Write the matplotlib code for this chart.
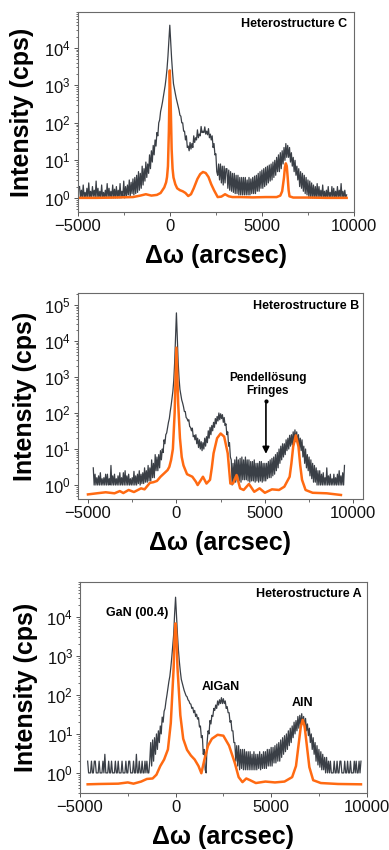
import numpy as np
import matplotlib
matplotlib.use("Agg")
import matplotlib.pyplot as plt
from matplotlib.ticker import MultipleLocator, LogLocator, NullFormatter

plt.rcParams['font.family'] = ['Liberation Sans', 'DejaVu Sans']
plt.rcParams['mathtext.fontset'] = 'custom'
plt.rcParams['mathtext.rm'] = 'Liberation Sans'

GRAY = '#3a3f46'
ORANGE = '#ff6a12'
nan = np.nan

# shared scan positions (arcsec) of the measured curves, one row = 1000 arcsec
gray_x = [-4900, -4850, -4800, -4750, -4700, -4650, -4600, -4550, -4500, -4450,
          -4400, -4350, -4300, -4250, -4200, -4150, -4100, -4050, -4000, -3950,
          -3900, -3850, -3800, -3750, -3700, -3650, -3600, -3550, -3500, -3450,
          -3400, -3350, -3300, -3250, -3200, -3150, -3100, -3050, -3000, -2950,
          -2900, -2850, -2800, -2750, -2700, -2650, -2600, -2550, -2500, -2450,
          -2400, -2350, -2300, -2250, -2200, -2150, -2100, -2050, -2000, -1950,
          -1900, -1850, -1800, -1750, -1700, -1650, -1600, -1550, -1500, -1450,
          -1400, -1350, -1300, -1250, -1200, -1150, -1100, -1050, -1000, -950,
          -900, -850, -800, -750, -700, -650, -600, -550, -500, -450,
          -400, -350, -300, -250, -200, -150, -100, -50, 0, 50,
          100, 150, 200, 250, 300, 350, 400, 450, 500, 550,
          600, 650, 700, 750, 800, 850, 900, 950, 1000, 1050,
          1100, 1150, 1200, 1250, 1300, 1350, 1400, 1450, 1500, 1550,
          1600, 1650, 1700, 1750, 1800, 1850, 1900, 1950, 2000, 2050,
          2100, 2150, 2200, 2250, 2300, 2350, 2400, 2450, 2500, 2550,
          2600, 2650, 2700, 2750, 2800, 2850, 2900, 2950, 3000, 3050,
          3100, 3150, 3200, 3250, 3300, 3350, 3400, 3450, 3500, 3550,
          3600, 3650, 3700, 3750, 3800, 3850, 3900, 3950, 4000, 4050,
          4100, 4150, 4200, 4250, 4300, 4350, 4400, 4450, 4500, 4550,
          4600, 4650, 4700, 4750, 4800, 4850, 4900, 4950, 5000, 5050,
          5100, 5150, 5200, 5250, 5300, 5350, 5400, 5450, 5500, 5550,
          5600, 5650, 5700, 5750, 5800, 5850, 5900, 5950, 6000, 6050,
          6100, 6150, 6200, 6250, 6300, 6350, 6400, 6450, 6500, 6550,
          6600, 6650, 6700, 6750, 6800, 6850, 6900, 6950, 7000, 7050,
          7100, 7150, 7200, 7250, 7300, 7350, 7400, 7450, 7500, 7550,
          7600, 7650, 7700, 7750, 7800, 7850, 7900, 7950, 8000, 8050,
          8100, 8150, 8200, 8250, 8300, 8350, 8400, 8450, 8500, 8550,
          8600, 8650, 8700, 8750, 8800, 8850, 8900, 8950, 9000, 9050,
          9100, 9150, 9200, 9250, 9300, 9350, 9400, 9450, 9500, 9550,
          9600, 9650, 9700]

# ---------------- Heterostructure C ----------------
gray_c = [2, 1, 1.6, 1, 2.2, 1, 1.4, 1, 1.8, 1, 2.5, 1, 1.5, 1, 2, 1.1, 1.6, 1, 2.8, 1,
          1.8, 1, 1.5, 1, 2.2, 1, 1.4, 1, 1.6, 1, 2.4, 1, 1.8, 1, 1.5, 1, 2.2, 1, 1.7, 1,
          2, 1, 1.6, 1, 2.4, 1, 1.5, 1.1, 2.8, 1, 2, 1.1, 2.2, 1.2, 3, 1.1, 2.6, 1.3, 3.2, 1.2,
          3.5, 1.3, 4, 1.4, 5, 1.6, 4.5, 1.8, 7, 2.2, 6, 2.8, 9, 3.5, 8, 4.5, 14, 6, 18, 9,
          25, 14, 35, 24, 55, 45, 100, 120, 200, 260, 350, 500, 700, 1000, 1600, 2800, 6000, 15000, 40000, 14000,
          5000, 2200, 1100, 800, 600, 450, 350, 280, 220, 160, 150, 100, 100, 60, 60, 35, 45, 22, 24, 18,
          30, 20, 28, 22, 45, 30, 40, 35, 65, 40, 50, 45, 80, 55, 60, 55, 78, 50, 60, 48,
          70, 40, 50, 35, 45, 22, 28, 14, 15, 5, 4, 8, 3, 8, 2.5, 7, 2.2, 7, 2.5, 6,
          6, 1.8, 5.5, 1.6, 5, 1.5, 4.5, 1.4, 4.5, 1.3, 4, 1.3, 4, 1.2, 3.5, 1.2, 3.5, 1.2, 3.5, 1.2,
          3.5, 1.2, 3, 1.2, 3.5, 1.2, 3.2, 1.3, 3.5, 1.3, 3.8, 1.3, 4, 1.5, 4.5, 1.5, 5, 1.8, 5.5, 1.8,
          6, 2, 6.5, 2.2, 7, 2.5, 7.5, 2.8, 8, 3, 9, 3.5, 10, 4, 12, 5, 14, 5, 16, 6,
          18, 8, 22, 10, 28, 12, 25, 12, 22, 9, 16, 7, 12, 5, 10, 4, 7, 3, 6, 2,
          5, 1.8, 4.5, 1.5, 4, 1.3, 3.5, 1.2, 3, 1, 2.8, 1, 2.5, 1, 2.2, 1, 2, 1, 2.4, 1,
          2, 1, 1.6, 1, 2.2, 1, 1.5, 1, 1.6, 1, 2, 1, 1.4, 1, 2, 1, 1.8, 1, 1.5, 1,
          2, 1, 1.6, 1, 2.4, 1, 1.5, 1, 1.6, 1, 1.2, nan, nan]
orange_c_x = [-5000, -4000, -3000, -2000, -1600, -1300, -1000, -700, -500, -300,
              -200, -150, -100, -50, 0, 50, 100, 150, 200, 300,
              400, 550, 700, 850, 1000, 1150, 1300, 1500, 1650, 1800,
              1950, 2100, 2250, 2400, 2600, 2800, 3000, 3200, 3400, 3800,
              4500, 5200, 5800, 6000, 6100, 6200, 6250, 6300, 6350, 6400,
              6450, 6500, 6700, 7500, 8500, 9600]
orange_c_y = [1.0, 1.0, 1.02, 1.05, 1.15, 1.25, 1.15, 1.2, 1.35, 1.9,
              2.6, 3.6, 7, 60, 2500, 300, 20, 6, 3.5, 2.3,
              1.8, 1.6, 1.5, 1.35, 1.12, 1.25, 1.8, 3.2, 4.3, 4.9,
              4.6, 3.6, 2.3, 1.6, 1.05, 1.08, 1.25, 1.1, 1.05, 1.05,
              1.03, 1.05, 1.05, 1.15, 1.5, 3.5, 6.5, 8.3, 7, 3.5,
              1.6, 1.1, 1.02, 1.02, 1.0, 1.0]

# ---------------- Heterostructure B ----------------
gray_b = [nan, nan, nan, nan, 3, 1, 2, 1, 1.6, 1, 1.8, 1, 2.2, 1, 1.5, 1, 1.6, 1, 2, 1,
          2, 1, 1.5, 1, 3.5, 1, 1.8, 1, 2, 1, 1.5, 1, 1.8, 1, 2.2, 1, 1.6, 1, 2.2, 1,
          2.5, 1, 1.8, 1, 2, 1, 1.5, 1, 1.6, 1, 2.4, 1, 1.8, 1, 2, 1.1, 2.5, 1, 2, 1.1,
          2.2, 1.1, 3, 1.2, 2.5, 1.2, 3.5, 1.3, 3, 1.3, 5, 1.6, 4, 1.6, 7, 2.5, 6, 2.5, 7, 3,
          9, 5, 10, 8, 18, 14, 25, 28, 40, 55, 70, 110, 160, 250, 400, 800, 2500, 12000, 60000, 12000,
          2500, 900, 450, 320, 230, 190, 150, 110, 110, 75, 70, 60, 65, 42, 40, 32, 38, 22, 24, 18,
          25, 14, 20, 11, 18, 10, 16, 9, 15, 10, 20, 12, 22, 15, 32, 20, 40, 25, 45, 32,
          55, 40, 70, 50, 80, 60, 100, 65, 95, 70, 90, 55, 75, 45, 50, 25, 30, 12, 15, 6,
          5, 1, 4, 1.2, 5, 1.2, 6, 1.3, 5, 1.3, 5.5, 1.2, 6, 1.4, 5, 1.4, 6, 1.4, 5, 1.3,
          5, 1.2, 4.5, 1.3, 4.5, 1.3, 5, 1.2, 4, 1.3, 4, 1.2, 4.5, 1.3, 4.5, 1.2, 4, 1.3, 4, 1.3,
          4, 1.5, 4.5, 1.6, 5, 1.6, 5.5, 1.8, 6, 2, 7, 2.5, 8, 3, 10, 4, 12, 5, 14, 6,
          14, 7, 18, 9, 20, 10, 24, 12, 25, 13, 30, 15, 34, 16, 30, 14, 25, 10, 20, 9,
          18, 6, 12, 4, 10, 3, 7, 2.5, 6, 1.8, 5, 1.5, 4, 1.2, 3.5, 1.2, 3, 1, 2.5, 1,
          2.5, 1, 2, 1, 2.2, 1, 1.6, 1, 3, 1, 1.8, 1, 2, 1, 1.5, 1, 2, 1, 1.6, 1,
          2, 1, 2.5, 1, 1.8, 1, 2.2, 1, 3.5, nan, nan, nan, nan]
orange_b_x = [-5000, -4500, -4000, -3500, -3200, -3000, -2700, -2400, -2000, -1800,
              -1500, -1300, -1100, -900, -700, -500, -400, -300, -200, -100,
              0, 100, 200, 300, 400, 600, 900, 1100, 1200, 1350,
              1500, 1700, 1900, 2000, 2100, 2300, 2500, 2700, 2900, 3050,
              3200, 3400, 3600, 3800, 4100, 4400, 4700, 5000, 5400, 5800,
              6100, 6400, 6500, 6600, 6750, 6900, 7000, 7100, 7300, 7700,
              8500, 9300]
orange_b_y = [0.55, 0.59, 0.63, 0.59, 0.68, 0.6, 0.73, 0.64, 0.81, 0.76,
              1.15, 1.2, 1.3, 1.7, 2.1, 2.6, 3.2, 5, 10, 100,
              6500, 180, 20, 6, 3.5, 2.0, 1.7, 1.24, 1.0, 1.3,
              1.7, 1.1, 1.4, 3, 7.6, 20, 27, 22, 7.6, 1.1,
              1.1, 1.9, 0.81, 0.73, 1.07, 0.65, 0.81, 0.61, 0.76, 0.73,
              0.9, 1.7, 4, 11.6, 24, 11.6, 3.5, 1.4, 0.73, 0.61,
              0.59, 0.53]

# ---------------- Heterostructure A ----------------
gray_a = [nan, nan, nan, nan, nan, nan, 2, 1, 1, 1, 2, 1, 1, 2, 2, 1, 1, 1, 2, 1,
          1, 1, 2, 1, 3, 1, 1, 1, 2, 1, 1, 2, 1, 1, 1, 2, 1, 1, 2, 1,
          1, 1, 2, 1, 1, 1, 2, 1, 1, 2, 2, 1, 1, 1, 2, 1, 1, 3, 1, 1,
          2, 1, 1, 2, 1, 1, 2, 1, 2, 1, 1, 2, 6, 1.5, 7, 2, 8, 3, 10, 4,
          12, 6, 16, 10, 27, 20, 38, 45, 70, 100, 150, 220, 300, 500, 900, 1800, 3500, 12000, 32000, 10000,
          3500, 1400, 700, 400, 250, 200, 160, 130, 110, 95, 90, 75, 70, 60, 58, 45, 48, 35, 40, 28,
          32, 24, 26, 15, 16, 8, 9, 3, 4, 1.2, 1, 6, 12, 10, 22, 18, 30, 28, 45, 40,
          55, 45, 70, 55, 75, 60, 85, 60, 80, 60, 70, 45, 50, 35, 35, 20, 22, 12, 12, 6,
          6, 2, 5, 1.5, 5, 1.2, 4, 1.3, 4, 1.2, 4, 1.2, 3.5, 1.2, 3.5, 1.2, 3.5, 1.2, 3, 1.2,
          3.5, 1.2, 3, 1.2, 3, 1.3, 3.5, 1.2, 3, 1.3, 3.5, 1.3, 3.5, 1.3, 4, 1.5, 4, 1.5, 4.5, 1.5,
          4.5, 1.8, 5, 1.8, 5.5, 2, 6, 2, 7, 2.5, 8, 3, 9, 3.5, 10, 4, 12, 5, 14, 6,
          16, 8, 20, 10, 22, 12, 28, 14, 30, 16, 33, 18, 28, 14, 25, 12, 18, 9, 14, 6,
          10, 4, 8, 3, 6, 2, 5, 1.6, 4, 1.4, 3.5, 1.2, 3, 1.2, 2.5, 1, 2.5, 1, 2, 1,
          2, 1, 1, 1, 2, 1, 1, 2, 1, 1, 2, 2, 1, 1, 1, 2, 1, 1, 2, 1,
          1, 2, 1, 1, 1, 2, 1, 2, 1, 1, 2, 1, 2]
orange_a_x = [-4600, -4000, -3000, -2500, -2200, -1800, -1500, -1200, -1000, -800,
              -600, -400, -250, -100, -50, 0, 50, 100, 250, 400,
              600, 800, 1000, 1200, 1350, 1500, 1700, 1900, 2200, 2500,
              2800, 3100, 3300, 3500, 3700, 3900, 4200, 4700, 5200, 5700,
              6100, 6300, 6450, 6550, 6650, 6750, 6850, 7000, 7200, 7600,
              8500, 9700]
orange_a_y = [0.51, 0.52, 0.53, 0.57, 0.53, 0.6, 0.7, 0.72, 0.9, 1.5,
              2.2, 4.0, 19, 500, 3000, 6800, 3000, 500, 30, 7.5,
              3.9, 2.8, 2.2, 1.5, 0.98, 2.1, 5, 7.5, 9.5, 9,
              5, 1.8, 0.78, 0.58, 0.72, 0.65, 0.55, 0.6, 0.57, 0.6,
              0.78, 1.5, 6, 15, 23, 16, 6, 1.4, 0.65, 0.55,
              0.52, 0.51]

W, H = 389, 850
fig = plt.figure(figsize=(W / 100, H / 100), dpi=100)


def make_axes(left, right, top, bottom):
    ax = fig.add_axes([left / W, 1 - bottom / H, (right - left) / W, (bottom - top) / H])
    return ax


def style(ax, xlim, ylim, title, ylab_x):
    ax.set_yscale('log')
    ax.set_xlim(*xlim)
    ax.set_ylim(*ylim)
    ax.xaxis.set_major_locator(MultipleLocator(5000))
    ax.xaxis.set_minor_locator(MultipleLocator(2500))
    ax.yaxis.set_major_locator(LogLocator(base=10, numticks=10))
    ax.yaxis.set_minor_locator(LogLocator(base=10, subs=np.arange(2, 10), numticks=20))
    ax.yaxis.set_minor_formatter(NullFormatter())
    for s in ax.spines.values():
        s.set_color('#6a6a6a')
        s.set_linewidth(0.8)
    ax.tick_params(which='major', direction='out', length=3, width=0.7, color='#555555',
                   labelsize=12, labelcolor='#111111', pad=2)
    ax.tick_params(which='minor', direction='out', length=1.8, width=0.6, color='#555555')
    ax.set_xlabel('Δω (arcsec)', fontsize=18, fontweight='bold')
    ax.set_ylabel('Intensity (cps)', fontsize=18, fontweight='bold')
    ax.xaxis.label.set_va('center')
    ax.yaxis.label.set_va('center')
    h_px = ax.get_position().height * H
    ax.xaxis.set_label_coords(0.5, -44 / h_px)
    ax.yaxis.set_label_coords(ylab_x, 0.5)
    ax.text(title[1], title[2], title[0], transform=ax.transAxes, ha='right', va='top',
            fontsize=9, fontweight='bold')


# panel C
ax_c = make_axes(77.7, 354, 12, 212)
ax_c.plot(gray_x, gray_c, color=GRAY, lw=0.9)
ax_c.plot(orange_c_x, orange_c_y, color=ORANGE, lw=1.8)
style(ax_c, (-5000, 10000), (0.42, 9e4), ('Heterostructure C', 0.975, 0.97), -0.203)

# panel B
ax_b = make_axes(77.7, 362.7, 293.3, 499)
ax_b.plot(gray_x, gray_b, color=GRAY, lw=0.9)
ax_b.plot(orange_b_x, orange_b_y, color=ORANGE, lw=1.8)
style(ax_b, (-5580, 10530), (0.41, 2.1e5), ('Heterostructure B', 0.987, 0.967), -0.185)
ax_b.annotate('', xy=(5060, 10 ** 0.79), xytext=(5060, 10 ** 2.34),
              arrowprops=dict(arrowstyle='-|>', color='black', lw=1.2, mutation_scale=10))
ax_b.plot([5060], [10 ** 2.34], 'o', color='black', ms=2)
ax_b.text(5150, 10 ** 2.8, 'Pendellösung\nFringes', ha='center', va='center',
          fontsize=8.5, fontweight='bold', linespacing=1.1)

# panel A
ax_a = make_axes(80, 366.7, 581.7, 793.3)
ax_a.plot(gray_x, gray_a, color=GRAY, lw=0.9)
ax_a.plot(orange_a_x, orange_a_y, color=ORANGE, lw=1.8)
style(ax_a, (-5000, 10000), (0.3, 8e4), ('Heterostructure A', 0.982, 0.969), -0.19)
ax_a.text(-2000, 10 ** 4.09, 'GaN (00.4)', ha='center', va='center', fontsize=9, fontweight='bold')
ax_a.text(2350, 10 ** 2.2, 'AlGaN', ha='center', va='center', fontsize=9, fontweight='bold')
ax_a.text(6620, 10 ** 1.78, 'AlN', ha='center', va='center', fontsize=9, fontweight='bold')

fig.savefig('out.png', dpi=100)
